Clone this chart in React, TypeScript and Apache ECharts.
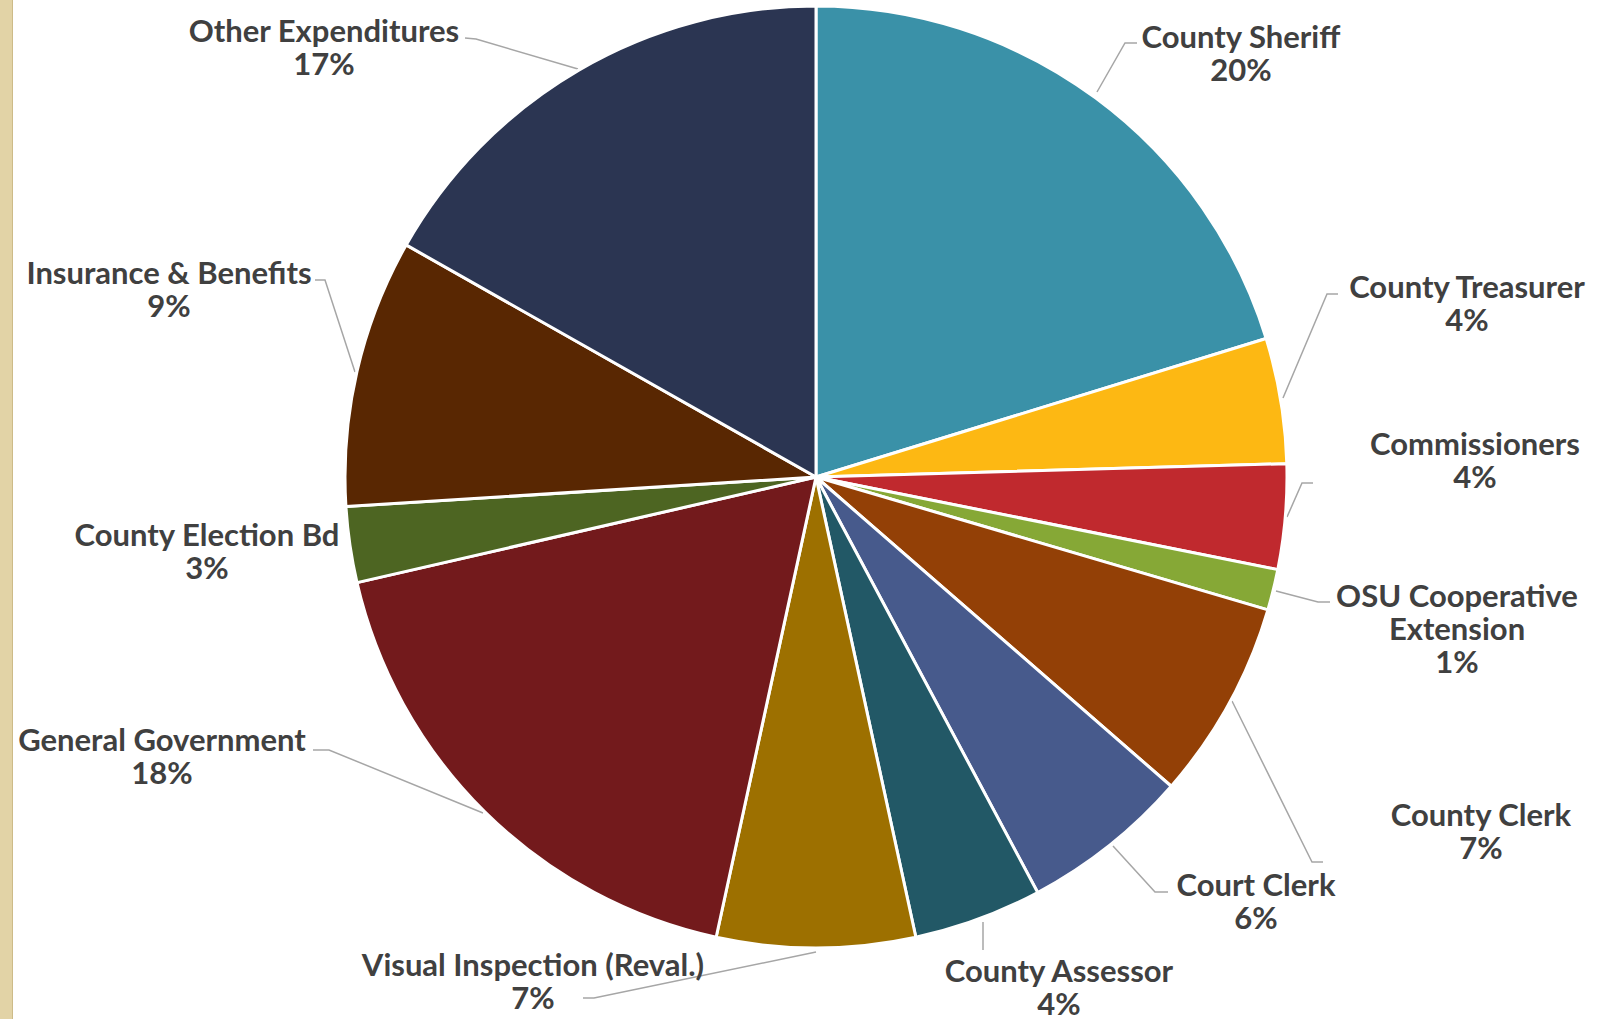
import React, { useEffect, useRef } from "react";
import * as echarts from "echarts";

const categories = [
  "County Sheriff",
  "County Treasurer",
  "Commissioners",
  "OSU Cooperative Extension",
  "County Clerk",
  "Court Clerk",
  "County Assessor",
  "Visual Inspection (Reval.)",
  "General Government",
  "County Election Bd",
  "Insurance & Benefits",
  "Other Expenditures",
];

const shares = [20.25, 4.3, 3.6, 1.4, 6.85, 5.8, 4.4, 6.8, 18.0, 2.6, 9.2, 16.8];

const colors = [
  "#3A91A8",
  "#FDB813",
  "#C0292E",
  "#86A836",
  "#934006",
  "#475A8C",
  "#225866",
  "#9D7000",
  "#731A1C",
  "#4D6522",
  "#592702",
  "#2B3552",
];

// label block centres (px)
const labelPositions: number[][] = [
  [1241, 52],
  [1467, 302],
  [1475, 459],
  [1457, 628],
  [1481, 830],
  [1256, 900],
  [1059, 986],
  [533, 980],
  [162, 755],
  [207, 550],
  [169, 288],
  [324, 46],
];

// leader line points (px)
const leaderLines: (number[][] | null)[] = [
  [[1097, 92], [1125, 43], [1137, 43]],
  [[1283, 398], [1327, 294], [1338, 294]],
  [[1287, 517], [1302, 483], [1313, 483]],
  [[1276, 591], [1318, 602], [1330, 602]],
  [[1232, 701], [1312, 862], [1323, 862]],
  [[1113, 846], [1155, 892], [1168, 892]],
  [[983, 922], [983, 936], [983, 950]],
  [[816, 952], [594, 998], [583, 998]],
  [[483, 813], [329, 750], [313, 750]],
  null,
  [[355, 372], [325, 280], [315, 280]],
  [[578, 69], [476, 39], [465, 38]],
];

export default function App() {
  const ref = useRef<HTMLDivElement>(null);
  useEffect(() => {
    if (!ref.current) return;
    const chart = echarts.init(ref.current, null, { renderer: "svg" });
    chart.setOption({
      animation: false,
      backgroundColor: "#ffffff",
      graphic: [
        {
          type: "rect",
          shape: { x: 0, y: 0, width: 12, height: 1019 },
          style: { fill: "#E2D3A6" },
          silent: true,
        },
        {
          type: "rect",
          shape: { x: 12, y: 0, width: 1, height: 1019 },
          style: { fill: "#CDBB88" },
          silent: true,
        },
      ],
      series: [
        {
          type: "pie",
          center: [816, 477],
          radius: 471,
          startAngle: 90,
          clockwise: true,
          percentPrecision: 0,
          avoidLabelOverlap: false,
          itemStyle: { borderColor: "#ffffff", borderWidth: 3 },
          label: {
            show: true,
            formatter: (p: any) =>
              (p.name === "OSU Cooperative Extension"
                ? "OSU Cooperative\nExtension"
                : p.name) +
              "\n" +
              p.percent +
              "%",
            fontFamily: "Lato",
            fontWeight: "bold",
            fontSize: 31,
            lineHeight: 33,
            color: "#404040",
            align: "center",
          },
          labelLine: {
            show: true,
            lineStyle: { color: "#A6A6A6", width: 1.5 },
          },
          labelLayout: (params: any) => {
            const i = params.dataIndex;
            const out: any = {
              x: labelPositions[i][0],
              y: labelPositions[i][1],
              align: "center",
              verticalAlign: "middle",
            };
            if (leaderLines[i]) out.labelLinePoints = leaderLines[i];
            return out;
          },
          data: categories.map((name, i) => ({
            name,
            value: shares[i],
            itemStyle: { color: colors[i] },
            labelLine: { show: leaderLines[i] !== null },
          })),
        },
      ],
    });
    return () => chart.dispose();
  }, []);
  return (
    <div
      ref={ref}
      style={{ position: "fixed", left: 0, top: 0, width: 1610, height: 1019 }}
    />
  );
}
